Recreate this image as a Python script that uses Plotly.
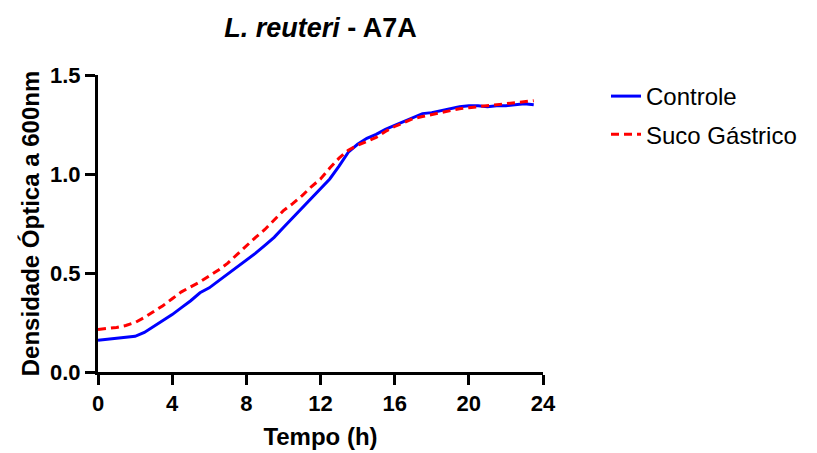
import plotly.graph_objects as go

time_h = [i * 0.5 for i in range(48)]
controle = [0.16, 0.165, 0.17, 0.175, 0.18, 0.20, 0.23, 0.26, 0.29, 0.325, 0.36, 0.40,
            0.425, 0.46, 0.495, 0.53, 0.565, 0.60, 0.64, 0.68, 0.73, 0.78, 0.83, 0.875,
            0.93, 0.975, 1.04, 1.11, 1.15, 1.18, 1.20, 1.225, 1.245, 1.265, 1.285, 1.305,
            1.31, 1.32, 1.33, 1.34, 1.345, 1.345, 1.34, 1.345, 1.345, 1.35, 1.355, 1.35]
suco = [0.215, 0.22, 0.225, 0.235, 0.25, 0.275, 0.305, 0.335, 0.37, 0.405, 0.43, 0.455,
        0.485, 0.515, 0.55, 0.595, 0.64, 0.68, 0.72, 0.77, 0.815, 0.85, 0.89, 0.935,
        0.975, 1.03, 1.08, 1.12, 1.145, 1.165, 1.185, 1.215, 1.24, 1.26, 1.28, 1.29,
        1.30, 1.31, 1.32, 1.33, 1.335, 1.34, 1.345, 1.35, 1.355, 1.36, 1.365, 1.37]
x_ticks = [0, 4, 8, 12, 16, 20, 24]
y_ticks = [0.0, 0.5, 1.0, 1.5]
y_tick_labels = ["0.0", "0.5", "1.0", "1.5"]

FONT = "Liberation Sans, Arial, sans-serif"

fig = go.Figure()
fig.add_trace(go.Scatter(x=time_h, y=controle, mode="lines", name="Controle",
                         legendgroup="a",
                         line=dict(color="#0000ff", width=3)))
fig.add_trace(go.Scatter(x=time_h, y=suco, mode="lines", name="Suco Gástrico",
                         legendgroup="b",
                         line=dict(color="#ff0000", width=3, dash="8px,5px")))

axis_common = dict(showline=True, linecolor="black", linewidth=3, ticks="outside",
                   ticklen=10, tickwidth=3, tickcolor="black", showgrid=False,
                   zeroline=False, automargin=False,
                   tickfont=dict(family=FONT, size=22, color="black", weight="bold"))

fig.update_layout(
    width=817, height=453,
    margin=dict(l=98, r=274, t=75, b=81, autoexpand=False),
    plot_bgcolor="white", paper_bgcolor="white",
    title=dict(text="<i>L. reuteri</i> - A7A", x=0.5, xref="paper", xanchor="center",
               y=1 - 28 / 453, yanchor="middle",
               font=dict(family=FONT, size=27, color="black", weight="bold")),
    xaxis=dict(range=[0, 24], tickvals=x_ticks, **axis_common,
               title=dict(text="Tempo (h)", standoff=13,
                          font=dict(family=FONT, size=24, color="black", weight="bold"))),
    yaxis=dict(range=[0, 1.5], tickvals=y_ticks, ticktext=y_tick_labels, **axis_common,
               title=dict(text="Densidade Óptica a 600nm", standoff=4,
                          font=dict(family=FONT, size=24, color="black", weight="bold"))),
    legend=dict(xref="container", yref="container", x=606 / 817, y=1 - 74 / 453,
                xanchor="left", yanchor="top",
                traceorder="grouped", tracegroupgap=4, itemwidth=30,
                font=dict(family=FONT, size=24, color="black"),
                bgcolor="rgba(0,0,0,0)"),
)

fig.write_html("out.html")
